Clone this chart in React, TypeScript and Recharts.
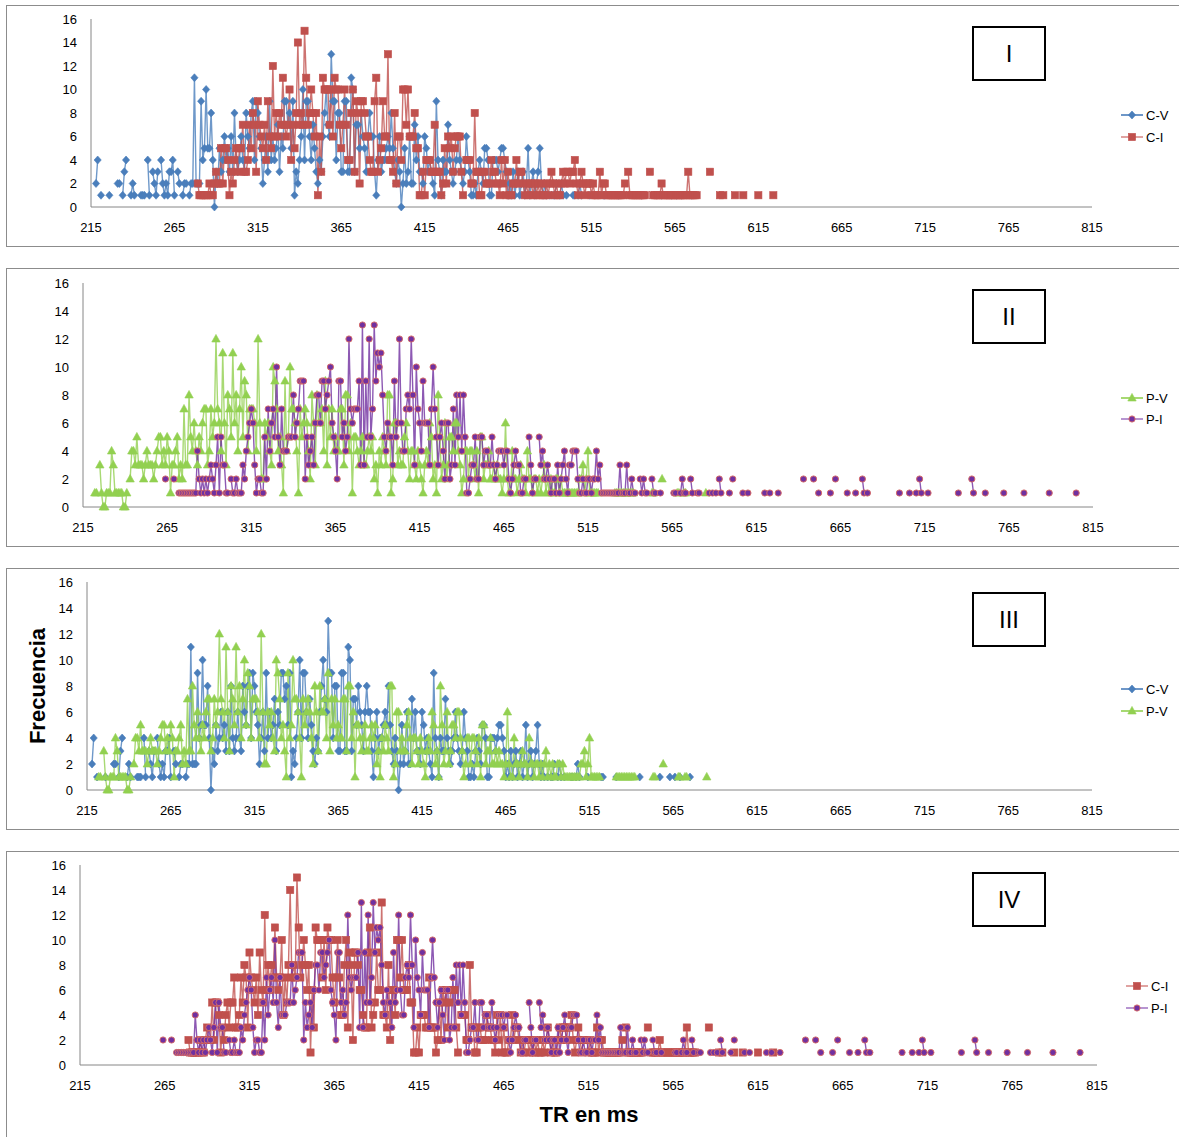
import React from 'react';
import { LineChart, Line, XAxis, YAxis } from 'recharts';

const _ = null;
type Row = [number, (number | null)[]];

const xTicks = [215, 265, 315, 365, 415, 465, 515, 565, 615, 665, 715, 765, 815];
const yTicks = [0, 2, 4, 6, 8, 10, 12, 14, 16];

// C-V : frequency per ms (rows of 10 ms starting at the given RT)
const cvRows: Row[] = [
  [210, [_, _, _, _, _, _, _, _, 2, 4]],
  [220, [_, 1, _, _, _, _, 1, _, _, _]],
  [230, [_, 2, 2, _, 1, 3, 4, _, _, 1]],
  [240, [2, 1, _, _, _, 1, 1, 1, _, 4]],
  [250, [1, _, 3, 2, 1, 3, _, 4, 2, 1]],
  [260, [2, 1, 3, 3, 4, 1, _, 3, 2, _]],
  [270, [1, 2, 2, _, 1, 2, 2, 11, 2, 2]],
  [280, [2, 9, 4, 5, 10, 5, 5, 8, 4, 0]],
  [290, [3, 2, 5, 3, 4, 6, 4, 5, 3, 6]],
  [300, [3, 8, 4, 3, 4, 6, 4, 3, 8, 6]],
  [310, [5, 8, 9, 4, 9, 8, 6, 5, 2, 4]],
  [320, [6, 3, 9, 4, 6, 4, 5, 7, 3, 6]],
  [330, [5, 9, 9, 7, 8, 5, 9, 1, 3, 2]],
  [340, [4, 6, 10, 4, 9, 9, 6, 4, 7, 5]],
  [350, [3, 2, 4, 3, 6, 8, 10, 7, 6, 13]],
  [360, [9, 9, 4, 8, 8, 3, 3, 9, 9, 3]],
  [370, [3, 11, 10, 3, 7, 7, 5, 8, 6, 5]],
  [380, [3, 6, 8, 6, 6, 3, 1, 4, 6, 3]],
  [390, [4, 4, 5, 6, 5, 8, 5, 3, 2, 4]],
  [400, [3, 0, 2, 5, 2, 3, 6, 2, 2, 7]],
  [410, [4, 6, 3, 3, 2, 6, 5, 3, 4, 3]],
  [420, [2, 1, 9, 4, 3, 1, 4, 3, 3, 7]],
  [430, [4, 3, 2, 3, 4, 6, 4, 3, 2, 3]],
  [440, [6, 4, 3, 1, 1, 2, 1, 3, 4, 3]],
  [450, [2, 5, 5, 4, 1, 1, 4, 4, 4, 3]],
  [460, [4, 5, 5, 4, 3, 1, 2, 1, 3, 1]],
  [470, [2, 3, 1, 2, 3, 1, 2, 5, 1, 2]],
  [480, [3, 1, 2, 3, 5, 2, 1, 2, 1, _]],
  [490, [1, _, 1, 1, 2, _, 1, 2, 1, _]],
  [500, [1, _, _, _, 1, 1, _, 1, 2, 1]],
  [510, [_, _, _, _, 1, _, _, _, _, _]],
  [520, [_, _, 1, 1, _, _, _, _, _, _]],
  [530, [_, 1, _, _, _, _, _, _, _, _]],
  [540, [_, _, _, _, _, 1, _, _, _, _]],
  [550, [_, _, _, _, _, _, _, 1, _, _]],
  [560, [_, _, _, 1, _, _, 1, _, _, 1]],
  [570, [_, _, _, _, _, 1, _, _, _, _]],
];

// C-I
const ciRows: Row[] = [
  [270, [_, _, _, _, _, _, _, _, _, 2]],
  [280, [1, 1, 1, 1, 1, 1, 2, 1, 1, 2]],
  [290, [3, 2, 2, 5, 2, 5, 5, 4, 1, 3]],
  [300, [2, 4, 5, 3, 5, 5, 7, 3, 3, 4]],
  [310, [7, 5, 8, 7, 3, 9, 7, 6, 5, 7]],
  [320, [4, 9, 6, 5, 12, 6, 8, 6, 8, 7]],
  [330, [11, 7, 6, 7, 10, 4, 7, 5, 8, 14]],
  [340, [7, 8, 7, 15, 11, 7, 8, 10, 8, 6]],
  [350, [8, 1, 6, 3, 11, 10, 10, 10, 7, 10]],
  [360, [6, 11, 10, 10, 7, 5, 7, 10, 7, 4]],
  [370, [4, 8, 10, 3, 9, 8, 2, 9, 9, 8]],
  [380, [6, 6, 4, 3, 3, 9, 11, 3, 4, 5]],
  [390, [9, 6, 6, 13, 4, 4, 3, 8, 2, 6]],
  [400, [6, 4, 10, 10, 7, 10, 6, 6, 6, 8]],
  [410, [5, 5, 1, 1, 3, 1, 4, 4, 4, 3]],
  [420, [3, 7, 3, 3, 3, 1, 2, 5, 2, 6]],
  [430, [5, 6, 3, 5, 6, 6, 6, 3, 1, _]],
  [440, [4, 4, 4, 2, 2, 8, 3, 3, 1, 1]],
  [450, [3, 3, 2, 2, 2, 4, 3, 3, 2, 2]],
  [460, [1, 4, 2, 4, 1, 3, 1, 1, 2, 2]],
  [470, [4, 2, 3, 3, 2, 1, 2, 1, 2, 2]],
  [480, [1, 2, 1, 2, 1, 2, 1, 1, 2, 1]],
  [490, [2, 3, 2, 1, 2, 1, 1, 2, 3, 2]],
  [500, [3, 3, 2, 3, 3, 4, 2, 1, 2, 3]],
  [510, [2, 1, 2, 2, 2, 1, 2, 1, 1, 1]],
  [520, [3, 1, 2, 2, 1, 1, 1, 1, 1, 1]],
  [530, [1, 1, 1, 1, 1, 2, _, 3, 1, 1]],
  [540, [1, 1, 1, 1, 1, 1, 1, 1, _, _]],
  [550, [3, _, 1, 1, 1, 1, 1, 2, 1, 1]],
  [560, [1, 1, 1, 1, 1, 1, 1, 1, 1, 1]],
  [570, [1, 1, 1, 3, 1, 1, 1, 1, 1, _]],
  [580, [_, _, _, _, _, _, 3, _, _, _]],
  [590, [_, _, 1, _, 1, _, _, _, _, _]],
  [600, [_, 1, _, _, _, _, 1, _, _, _]],
  [610, [_, _, _, _, _, 1, _, _, _, _]],
  [620, [_, _, _, _, 1, _, _, _, _, _]],
];

// P-V
const pvRows: Row[] = [
  [220, [_, _, 1, 1, _, 3, 1, 0, 0, 1]],
  [230, [1, 1, 4, 3, 1, 1, 1, 1, 1, 0]],
  [240, [0, 1, _, 2, 4, 4, 3, 5, 3, 3]],
  [250, [3, 2, 3, 4, 3, 3, 3, 2, 3, 4]],
  [260, [5, 5, 3, 4, 3, 5, 4, 1, 3, 3]],
  [270, [4, 5, 2, 3, 2, 7, 3, 3, 8, 5]],
  [280, [4, 6, 4, 3, 5, 4, 6, 7, 7, 3]],
  [290, [4, 7, 5, 6, 12, 7, 6, 4, 11, 6]],
  [300, [3, 8, 7, 5, 11, 6, 8, 4, 7, 10]],
  [310, [5, 9, 8, 4, 7, 7, 7, 6, 4, 12]],
  [320, [6, 2, 2, 6, 5, 6, 4, 3, 10, 9]],
  [330, [7, 4, 5, 3, 1, 9, 4, 5, 10, 7]],
  [340, [7, 6, 4, 1, 7, 5, 6, 7, 6, 4]],
  [350, [2, 8, 6, 3, 8, 6, 6, 7, 4, 9]],
  [360, [3, 7, 5, 7, 4, 5, 4, 4, 7, 7]],
  [370, [3, 8, 8, 4, 6, 1, 5, 5, 4, 3]],
  [380, [4, 5, 3, 3, 4, 5, 4, 5, 2, 3]],
  [390, [1, 4, 3, 5, 4, 3, 8, 8, 1, 2]],
  [400, [6, 6, 3, 4, 3, 3, 5, 6, 4, 2]],
  [410, [4, 4, 3, 2, 4, 3, 2, 1, 3, 4]],
  [420, [3, 6, 5, 2, 3, 1, 8, 5, 2, 3]],
  [430, [6, 2, 3, 5, 5, 4, 6, 6, 4, 3]],
  [440, [1, 2, 4, 4, 2, 4, 4, 3, 2, 4]],
  [450, [1, 5, 5, 2, 3, 3, 4, 2, 2, 3]],
  [460, [2, 3, 2, 2, 1, 2, 6, 2, 1, 1]],
  [470, [4, 2, 2, 1, 2, 3, 2, 2, 1, 4]],
  [480, [2, 2, 1, 2, 2, 1, 2, 1, 2, 3]],
  [490, [1, 2, 1, 2, 1, 1, 2, 2, 1, 2]],
  [500, [1, 1, 1, 1, 1, 1, 1, 1, 1, 1]],
  [510, [2, 2, 3, 1, 2, 4, 1, 1, 1, 1]],
  [520, [1, 1, _, _, _, _, _, _, _, _]],
  [530, [_, 1, 1, 1, 1, 1, 1, 1, 1, 1]],
  [540, [1, 1, 1, _, _, _, _, _, _, _]],
  [550, [_, _, _, 1, 1, _, _, _, _, 2]],
  [560, [_, _, _, _, _, _, _, _, 1, 1]],
  [570, [_, _, 1, 1, _, _, _, _, _, _]],
  [580, [_, _, _, _, _, 1, _, _, _, _]],
];

// P-I
const piRows: Row[] = [
  [260, [_, _, _, _, 2, _, _, _, _, 2]],
  [270, [_, _, 1, 1, 1, 1, 1, 1, 1, 1]],
  [280, [1, 1, 1, 4, 2, 1, 2, 1, 2, 1]],
  [290, [2, 3, 2, 1, 3, 5, 1, 5, 3, 3]],
  [300, [1, 1, _, 2, 1, 1, 2, 1, 1, 1]],
  [310, [3, 2, 4, 5, 6, 7, 6, 3, 1, 2]],
  [320, [2, 1, 1, 5, 2, 7, 4, 6, 7, 5]],
  [330, [10, 5, 3, 7, 4, 4, 4, 5, 5, 5]],
  [340, [8, 5, 6, 7, 9, 9, 9, 2, 5, 3]],
  [350, [4, 5, 3, 6, 8, 8, 6, 9, 9, 7]],
  [360, [8, 9, 10, 6, 5, 4, 2, 9, 9, 5]],
  [370, [6, 4, 5, 12, 7, 6, 7, 7, 7, 9]],
  [380, [3, 13, 3, 9, 5, 12, 5, 7, 13, 9]],
  [390, [11, 10, 11, 8, 5, 4, 6, 5, 5, 3]],
  [400, [9, 5, 6, 12, 6, 4, 4, 7, 8, 7]],
  [410, [12, 8, 3, 10, 7, 6, 4, 9, 6, 6]],
  [420, [6, 3, 7, 10, 7, 5, 3, 5, 6, 4]],
  [430, [2, 6, 6, 2, 3, 7, 3, 8, 5, 8]],
  [440, [4, 8, 5, 1, 1, 2, 3, 3, 5, 2]],
  [450, [2, 5, 5, 3, 4, 4, 3, 3, 5, 3]],
  [460, [2, 3, 4, 4, 4, 3, 4, 4, 2, 1]],
  [470, [2, 3, 4, 3, 3, 1, 1, 2, 2, _]],
  [480, [5, 3, 1, 2, 2, _, 5, 3, 4, 2]],
  [490, [2, 3, 2, 1, 2, 2, 1, 3, 1, 2]],
  [500, [3, 4, 2, 1, 3, 3, 4, 4, 4, 2]],
  [510, [1, 1, 2, 1, 1, 2, 2, 1, 2, 2]],
  [520, [4, 2, 3, 1, 1, 1, 1, 1, 1, 1]],
  [530, [1, 1, 1, 1, 3, 1, 1, 1, 3, 1]],
  [540, [1, 2, 1, 1, _, _, 2, 1, 2, 1]],
  [550, [1, _, _, 2, 1, 1, _, _, 1, _]],
  [560, [_, _, _, _, _, _, 1, 1, _, _]],
  [570, [1, 2, 1, 1, _, _, 2, 1, _, _]],
  [580, [1, 1, _, _, _, _, _, 1, _, 1]],
  [590, [_, 1, _, 2, 1, _, _, _, _, 1]],
  [600, [_, 2, _, _, _, _, _, 1, _, _]],
  [610, [1, _, _, _, _, _, _, _, _, _]],
  [620, [1, _, _, 1, _, _, _, _, 1, _]],
  [640, [_, _, _, 2, _, _, _, _, _, 2]],
  [650, [_, _, 1, _, _, _, _, _, _, 1]],
  [660, [_, _, 2, _, _, _, _, _, _, 1]],
  [670, [_, _, _, _, 1, _, _, _, 2, 1]],
  [680, [_, 1, _, _, _, _, _, _, _, _]],
  [700, [1, _, _, _, _, _, 1, _, _, _]],
  [710, [1, _, 2, 1, _, _, _, 1, _, _]],
  [730, [_, _, _, _, _, 1, _, _, _, _]],
  [740, [_, _, _, 2, 1, _, _, _, _, _]],
  [750, [_, 1, _, _, _, _, _, _, _, _]],
  [760, [_, _, 1, _, _, _, _, _, _, _]],
  [770, [_, _, _, _, 1, _, _, _, _, _]],
  [780, [_, _, _, _, _, _, _, _, _, 1]],
  [800, [_, _, _, _, _, 1, _, _, _, _]],
];

type Pt = { x: number; y: number | null };
// Keeps only the read values; a null break point is placed between
// two values that are not on consecutive ms, so the line breaks there.
function build(rows: Row[]): Pt[] {
  const out: Pt[] = [];
  let lastX: number | null = null;
  for (const [start, vals] of rows) {
    vals.forEach((v, i) => {
      if (v == null) return;
      const x = start + i;
      if (lastX != null && x !== lastX + 1) out.push({ x: (lastX + x) / 2, y: null });
      out.push({ x, y: v });
      lastX = x;
    });
  }
  return out;
}

type Shape = 'diamond' | 'square' | 'triangle' | 'circle';
type SeriesDef = { name: string; data: Pt[]; line: string; shape: Shape; fill: string; stroke: string; legendLine: string };

const SERIES: Record<string, SeriesDef> = {
  cv: { name: 'C-V', data: build(cvRows), line: '#4A7EBB', shape: 'diamond', fill: '#4A7EBB', stroke: '#4A7EBB', legendLine: '#4A7EBB' },
  ci: { name: 'C-I', data: build(ciRows), line: '#C0504D', shape: 'square', fill: '#C0504D', stroke: '#C0504D', legendLine: '#D98C8A' },
  pv: { name: 'P-V', data: build(pvRows), line: '#92D050', shape: 'triangle', fill: '#92D050', stroke: '#92D050', legendLine: '#92D050' },
  pi: { name: 'P-I', data: build(piRows), line: '#7030A0', shape: 'circle', fill: '#7030A0', stroke: '#D46A6A', legendLine: '#A57BC6' },
};

const FONT = '"Liberation Sans", Arial, Helvetica, sans-serif';

function Marker({ shape, cx, cy, fill, stroke }: { shape: Shape; cx: number; cy: number; fill: string; stroke: string }) {
  if (shape === 'diamond')
    return <path d={`M${cx},${cy - 4}L${cx + 3.6},${cy}L${cx},${cy + 4}L${cx - 3.6},${cy}Z`} fill={fill} stroke={stroke} strokeWidth={0.6} />;
  if (shape === 'square') return <rect x={cx - 3.6} y={cy - 3.6} width={7.2} height={7.2} fill={fill} stroke={stroke} strokeWidth={0.6} />;
  if (shape === 'triangle')
    return <path d={`M${cx},${cy - 4.6}L${cx + 4.2},${cy + 3}L${cx - 4.2},${cy + 3}Z`} fill={fill} stroke={stroke} strokeWidth={0.6} />;
  return <circle cx={cx} cy={cy} r={3.1} fill={fill} stroke={stroke} strokeWidth={1} />;
}

function makeDot(s: SeriesDef) {
  return (p: any) => {
    const k = `d${p.index}`;
    if (p.cx == null || p.cy == null || p.payload == null || p.payload.y == null || isNaN(p.cy)) return <g key={k} />;
    return (
      <g key={k}>
        <Marker shape={s.shape} cx={p.cx} cy={p.cy} fill={s.fill} stroke={s.stroke} />
      </g>
    );
  };
}

type PanelCfg = {
  boxTop: number;
  boxH: number;
  plotTop: number;
  plotBottom: number;
  plotLeft: number;
  plotRight: number;
  keys: string[];
  roman: string;
  romanTop: number;
  legendTop: number;
  legendGap: number;
  legendLeft: number;
};

const PANELS: PanelCfg[] = [
  { boxTop: 5, boxH: 242, plotTop: 19, plotBottom: 207, plotLeft: 91, plotRight: 1092, keys: ['cv', 'ci'], roman: 'I', romanTop: 26, legendTop: 115, legendGap: 22, legendLeft: 1121 },
  { boxTop: 268, boxH: 279, plotTop: 283, plotBottom: 507, plotLeft: 83, plotRight: 1093, keys: ['pv', 'pi'], roman: 'II', romanTop: 289, legendTop: 398, legendGap: 21, legendLeft: 1121 },
  { boxTop: 568, boxH: 262, plotTop: 582, plotBottom: 790, plotLeft: 87, plotRight: 1092, keys: ['cv', 'pv'], roman: 'III', romanTop: 592, legendTop: 689, legendGap: 22, legendLeft: 1121 },
  { boxTop: 851, boxH: 290, plotTop: 865, plotBottom: 1065, plotLeft: 80, plotRight: 1097, keys: ['ci', 'pi'], roman: 'IV', romanTop: 872, legendTop: 986, legendGap: 22, legendLeft: 1126 },
];

const W = 1179;
const YW = 50;

function Panel({ c }: { c: PanelCfg }) {
  const h = c.plotBottom - c.boxTop + 40;
  const tickStyle = { fill: '#000', fontSize: 13, fontFamily: FONT };
  return (
    <>
      <div
        style={{
          position: 'absolute',
          left: 6,
          top: c.boxTop,
          width: 1200,
          height: c.boxH,
          border: '1px solid #8c8c8c',
          boxSizing: 'border-box',
          background: '#fff',
        }}
      />
      <div style={{ position: 'absolute', left: 0, top: c.boxTop }}>
        <LineChart
          width={W}
          height={h}
          margin={{ top: c.plotTop - c.boxTop, right: W - c.plotRight, left: c.plotLeft - YW, bottom: 10 }}
        >
          <XAxis
            type="number"
            dataKey="x"
            domain={[215, 815]}
            allowDataOverflow
            ticks={xTicks}
            interval={0}
            height={30}
            tickSize={0}
            tickMargin={16}
            tickLine={false}
            axisLine={{ stroke: '#868686', strokeWidth: 1 }}
            tick={tickStyle}
          />
          <YAxis
            type="number"
            domain={[0, 16]}
            ticks={yTicks}
            interval={0}
            width={YW}
            tickSize={0}
            tickMargin={14}
            tickLine={false}
            axisLine={{ stroke: '#868686', strokeWidth: 1 }}
            tick={tickStyle}
          />
          {c.keys.map((k) => {
            const s = SERIES[k];
            return (
              <Line
                key={k}
                data={s.data}
                dataKey="y"
                name={s.name}
                type="linear"
                stroke={s.line}
                strokeWidth={1.4}
                strokeOpacity={0.8}
                connectNulls={false}
                dot={makeDot(s)}
                activeDot={false}
                isAnimationActive={false}
              />
            );
          })}
        </LineChart>
      </div>
      <div
        style={{
          position: 'absolute',
          left: 972,
          top: c.romanTop,
          width: 74,
          height: 55,
          border: '2px solid #000',
          boxSizing: 'border-box',
          display: 'flex',
          alignItems: 'center',
          justifyContent: 'center',
          fontFamily: FONT,
          fontSize: 24,
          color: '#000',
          background: '#fff',
        }}
      >
        {c.roman}
      </div>
      <svg
        style={{ position: 'absolute', left: c.legendLeft - 2, top: c.legendTop - 10 }}
        width={60}
        height={c.legendGap + 20}
      >
        {c.keys.map((k, i) => {
          const s = SERIES[k];
          const y = 10 + i * c.legendGap;
          return (
            <g key={k}>
              <line x1={2} x2={24} y1={y} y2={y} stroke={s.legendLine} strokeWidth={1.6} />
              <Marker shape={s.shape} cx={13} cy={y} fill={s.fill} stroke={s.stroke} />
              <text x={27} y={y} dominantBaseline="central" fontSize={13} fontFamily={FONT} fill="#000">
                {s.name}
              </text>
            </g>
          );
        })}
      </svg>
    </>
  );
}

export default function App() {
  return (
    <div
      style={{
        position: 'absolute',
        left: 0,
        top: 0,
        width: W,
        height: 1137,
        overflow: 'hidden',
        background: '#fff',
        fontFamily: FONT,
      }}
    >
      {PANELS.map((c) => (
        <Panel key={c.roman} c={c} />
      ))}
      <div
        style={{
          position: 'absolute',
          left: 38,
          top: 686,
          transform: 'translate(-50%, -50%) rotate(-90deg)',
          whiteSpace: 'nowrap',
          fontWeight: 'bold',
          fontSize: 22,
          fontFamily: FONT,
          color: '#000',
        }}
      >
        Frecuencia
      </div>
      <div
        style={{
          position: 'absolute',
          left: 589,
          top: 1115,
          transform: 'translate(-50%, -50%)',
          whiteSpace: 'nowrap',
          fontWeight: 'bold',
          fontSize: 22,
          fontFamily: FONT,
          color: '#000',
        }}
      >
        TR en ms
      </div>
    </div>
  );
}
